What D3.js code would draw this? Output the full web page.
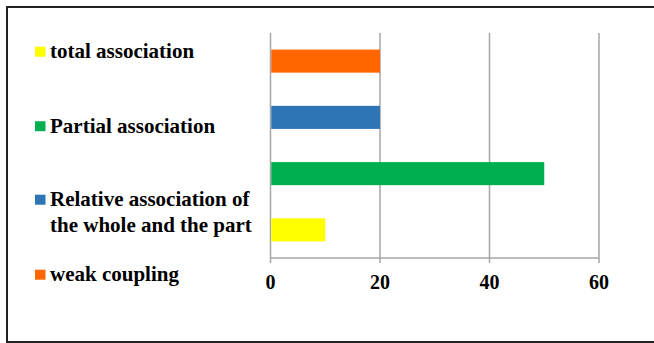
<!DOCTYPE html>
<html>
<head>
<meta charset="utf-8">
<script src="https://cdn.jsdelivr.net/npm/d3@7"></script>
<style>
  body { margin: 0; background: #fff; }
  svg { display: block; }
</style>
</head>
<body>
<svg id="chart" width="654" height="343"></svg>
<script>
// data
const categories = ["total association", "Partial association", "Relative association of the whole and the part", "weak coupling"];
const legendLines = [["total association"], ["Partial association"], ["Relative association of", "the whole and the part"], ["weak coupling"]];
const values = [10, 50, 20, 20];
const colors = ["#ffff00", "#00b050", "#2e75b6", "#ff6600"];
const xTicks = [0, 20, 40, 60];

const svg = d3.select("#chart");

// outer frame
svg.append("rect")
  .attr("x", 7).attr("y", 7)
  .attr("width", 660).attr("height", 335)
  .attr("fill", "none")
  .attr("stroke", "#222")
  .attr("stroke-width", 2);

const plot = { left: 270.5, right: 599, top: 33, bottom: 258 };

const x = d3.scaleLinear()
  .domain([0, 60])
  .range([plot.left, plot.right]);

// first category at the bottom, like excel does it
const y = d3.scaleBand()
  .domain(categories.slice().reverse())
  .range([plot.top, plot.bottom])
  .paddingInner(0.59)
  .paddingOuter(0.295);

// gridlines
svg.append("g")
  .selectAll("line")
  .data(xTicks)
  .join("line")
  .attr("x1", d => x(d)).attr("x2", d => x(d))
  .attr("y1", plot.top).attr("y2", plot.bottom + 5)
  .attr("stroke", "#a6a6a6")
  .attr("stroke-width", 1.5);

// x axis line
svg.append("line")
  .attr("x1", plot.left).attr("x2", plot.right)
  .attr("y1", plot.bottom).attr("y2", plot.bottom)
  .attr("stroke", "#a6a6a6")
  .attr("stroke-width", 1.5);

// bars
svg.append("g")
  .selectAll("rect")
  .data(categories)
  .join("rect")
  .attr("x", x(0) + 0.75)
  .attr("y", d => y(d))
  .attr("width", (d, i) => x(values[i]) - x(0) - 0.75)
  .attr("height", y.bandwidth())
  .attr("fill", (d, i) => colors[i]);

// tick labels
svg.append("g")
  .selectAll("text")
  .data(xTicks)
  .join("text")
  .attr("x", d => x(d))
  .attr("y", 289)
  .attr("text-anchor", "middle")
  .attr("font-family", "Liberation Serif")
  .attr("font-weight", "bold")
  .attr("font-size", 20)
  .text(d => d);

// legend
const legendY = [58, 132.5, 206, 281];
const legend = svg.append("g")
  .selectAll("g")
  .data(categories)
  .join("g")
  .attr("transform", (d, i) => `translate(35, ${legendY[i]})`);

legend.append("rect")
  .attr("x", 0).attr("y", -11.3)
  .attr("width", 10.5).attr("height", 10)
  .attr("fill", (d, i) => colors[i]);

legend.append("text")
  .attr("x", 15)
  .attr("y", 0)
  .attr("font-family", "Liberation Serif")
  .attr("font-weight", "bold")
  .attr("font-size", 21)
  .selectAll("tspan")
  .data((d, i) => legendLines[i])
  .join("tspan")
  .attr("x", 15)
  .attr("dy", (d, j) => j === 0 ? 0 : 25.7)
  .text(d => d);
</script>
</body>
</html>
